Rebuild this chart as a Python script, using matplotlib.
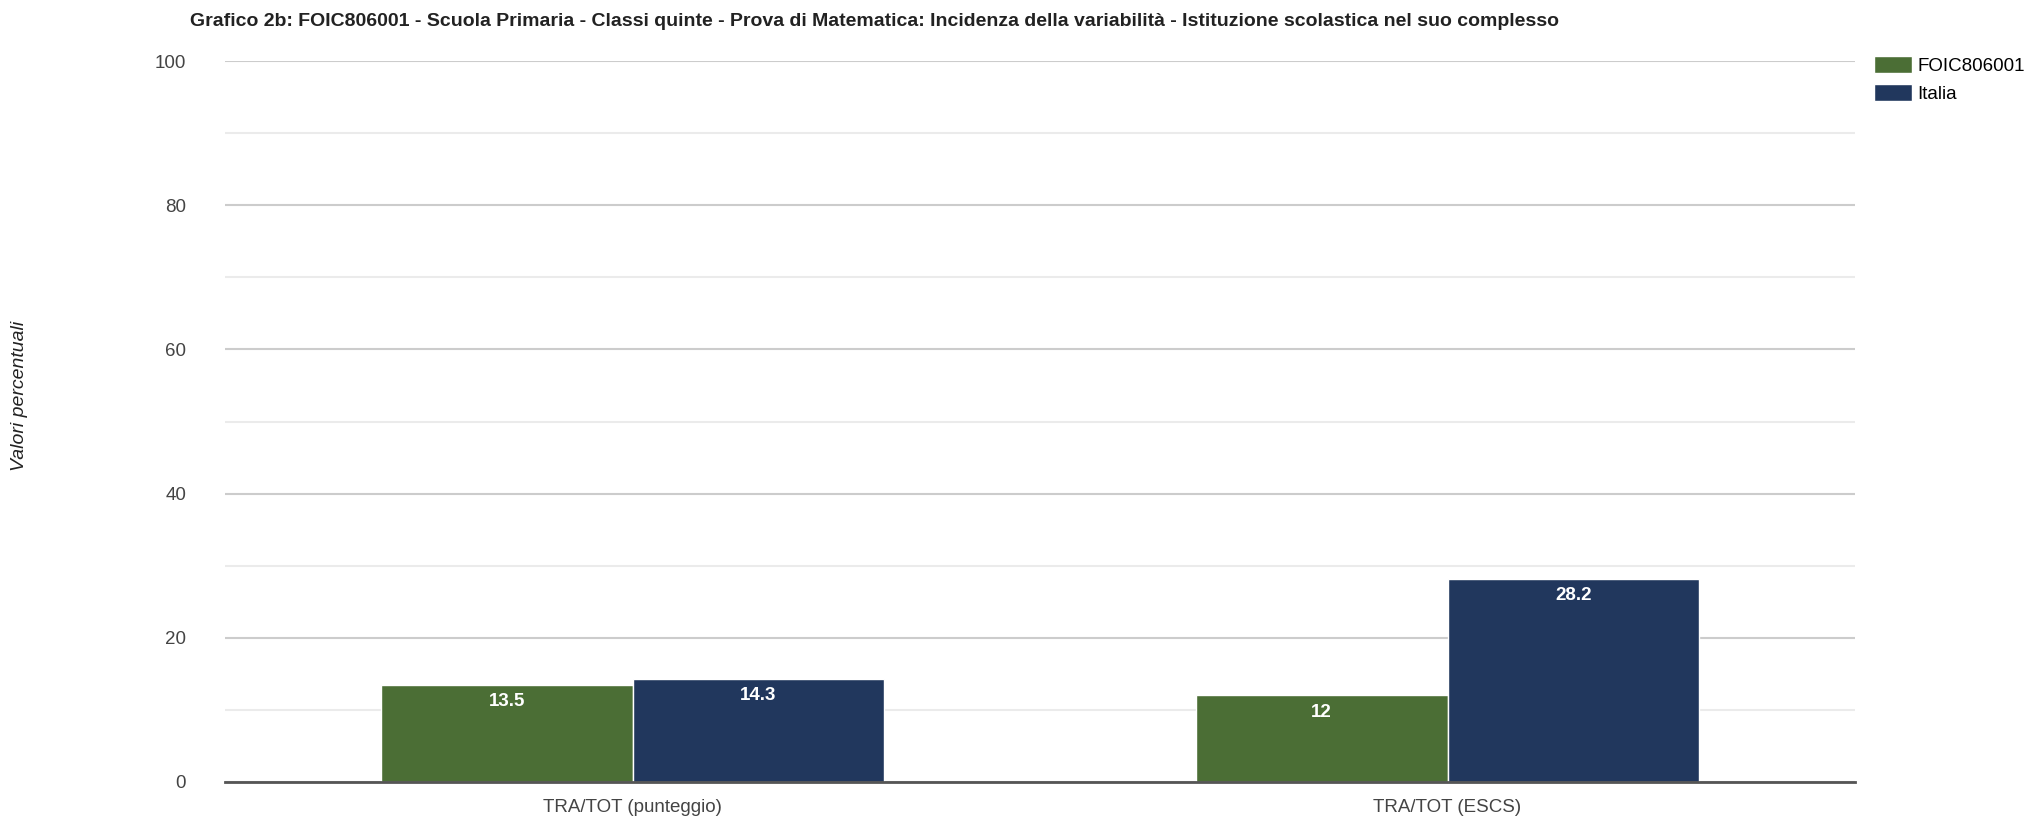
import matplotlib.pyplot as plt
import numpy as np

categories = ['TRA/TOT (punteggio)', 'TRA/TOT (ESCS)']
series_names = ['FOIC806001', 'Italia']
school_vals = [13.5, 12]
italy_vals = [14.3, 28.2]
colors = ['#4b6e35', '#21375d']

plt.rcParams['font.family'] = ['Liberation Sans', 'DejaVu Sans']

W, H = 2037, 818
fig = plt.figure(figsize=(W / 100, H / 100), dpi=100)
ax = fig.add_axes([225 / W, 1 - 782 / H, (1855 - 225) / W, (782 - 61) / H])

x = np.arange(len(categories))
bw = 0.309
bars1 = ax.bar(x - bw / 2, school_vals, bw, color=colors[0], edgecolor='white', linewidth=1, zorder=3, label=series_names[0])
bars2 = ax.bar(x + bw / 2, italy_vals, bw, color=colors[1], edgecolor='white', linewidth=1, zorder=3, label=series_names[1])

for bars in (bars1, bars2):
    for b in bars:
        v = b.get_height()
        ax.annotate(f'{v:g}', (b.get_x() + b.get_width() / 2, v), xytext=(0, -6),
                    textcoords='offset points', ha='center', va='top',
                    color='white', fontsize=13.5, fontweight='bold', zorder=4)

ax.set_xlim(-0.5, 1.5)
ax.set_ylim(0, 100)
ax.set_yticks(np.arange(0, 101, 20))
ax.set_yticks(np.arange(10, 100, 20), minor=True)
ax.grid(axis='y', which='major', color='#cccccc', linewidth=1.5, zorder=0)
ax.grid(axis='y', which='minor', color='#ebebeb', linewidth=1.5, zorder=0)
ax.set_xticks(x)
ax.set_xticklabels(categories)
ax.tick_params(axis='both', which='both', length=0, labelsize=13.5, labelcolor='#444444')
ax.tick_params(axis='y', pad=28)
ax.tick_params(axis='x', pad=12)
for s in ('top', 'right', 'left'):
    ax.spines[s].set_visible(False)
ax.spines['bottom'].set_color('#555555')
ax.spines['bottom'].set_linewidth(2)
ax.spines['bottom'].set_zorder(5)

fig.text(20 / W, 422 / H, 'Valori percentuali', rotation=90, style='italic',
         fontsize=14, color='#222222', ha='center', va='center')
fig.text(190 / W, 1 - 21 / H, 'Grafico 2b: FOIC806001 - Scuola Primaria - Classi quinte - Prova di Matematica: Incidenza della variabilità - Istituzione scolastica nel suo complesso',
         fontsize=14, fontweight='bold', color='#222222', ha='left', va='center')

fig.legend(loc='upper left', bbox_to_anchor=(1874 / W, 1 - 56 / H), frameon=False,
           fontsize=13.5, handlelength=2.0, handleheight=1.0, handletextpad=0.3,
           labelspacing=0.5, borderaxespad=0, borderpad=0)

fig.savefig('out.png', dpi=100)
